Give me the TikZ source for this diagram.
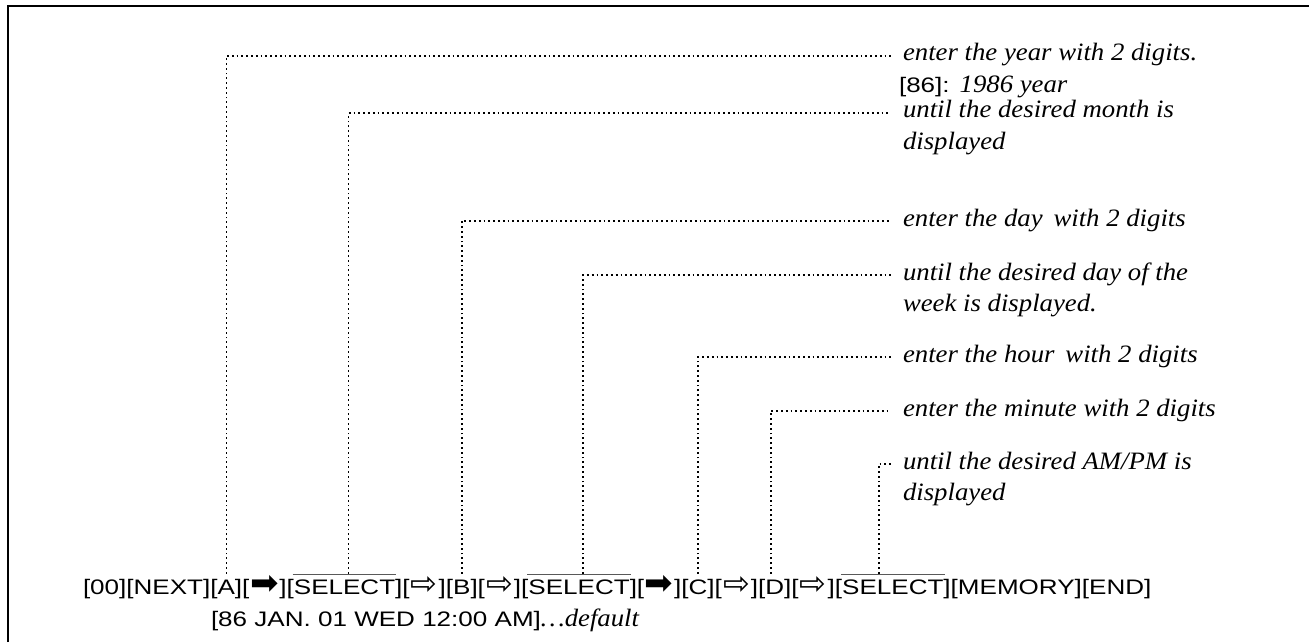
\documentclass[tikz,border=0pt]{standalone}
\usepackage{fontspec}
\usepackage{tikz}
\usetikzlibrary{positioning}
\newfontfamily\keyfont[FakeStretch=1.24]{Liberation Sans}
\newfontfamily\notefont[FakeStretch=1.07]{Liberation Serif}
\newfontfamily\arrowfont{DejaVu Sans}
\newcommand{\blackarr}{\makebox[15pt]{\arrowfont\fontsize{17}{12}\selectfont ➡}}
\newcommand{\whitearr}{\makebox[14.5pt]{\arrowfont\fontsize{16}{12}\selectfont ⇨}}
\newcommand{\keytext}{\keyfont\upshape\fontsize{10.5}{15}\selectfont}

\begin{document}
\begin{tikzpicture}[
  x=0.5pt, y=-0.5pt,
  key/.style={
    font=\keytext,
    inner sep=0pt, outer sep=0pt,
    text height=8.2pt, text depth=2.3pt},
  note/.style={
    font=\notefont\itshape\fontsize{12.5}{15}\selectfont,
    inner sep=0pt, outer sep=0pt,
    text height=8pt, text depth=3pt, anchor=west},
  lead/.style={
    draw=black, line width=0.75pt,
    dash pattern=on 0.9pt off 1.5pt,
    shorten <=2pt, shorten >=6pt},
  bar/.style={draw=black!65, line width=0.5pt},
]
\useasboundingbox (0,0) rectangle (1309,642);

% frame
\draw[line width=1.3pt] (8,642) -- (8,6) -- (1309,6);

% key sequence
\node[key, anchor=base west] (k00) at (83,594) {[00]};
\node[key, right=0pt of k00]   (knext) {[NEXT]};
\node[key, right=0pt of knext] (ka)    {[A]};
\node[key, right=0pt of ka]    (kar1)  {[\blackarr]};
\node[key, right=0pt of kar1]  (ksel1) {[SELECT]};
\node[key, right=0pt of ksel1] (kar2)  {[\whitearr]};
\node[key, right=0pt of kar2]  (kb)    {[B]};
\node[key, right=0pt of kb]    (kar3)  {[\whitearr]};
\node[key, right=0pt of kar3]  (ksel2) {[SELECT]};
\node[key, right=0pt of ksel2] (kar4)  {[\blackarr]};
\node[key, right=0pt of kar4]  (kc)    {[C]};
\node[key, right=0pt of kc]    (kar5)  {[\whitearr]};
\node[key, right=0pt of kar5]  (kd)    {[D]};
\node[key, right=0pt of kd]    (kar6)  {[\whitearr]};
\node[key, right=0pt of kar6]  (ksel3) {[SELECT]};
\node[key, right=0pt of ksel3] (kmem)  {[MEMORY]};
\node[key, right=0pt of kmem]  (kend)  {[END]};

\node[key, anchor=base west] (dflt) at (211,626)
  {[86 JAN. 01 WED 12:00 AM]{\notefont\itshape\fontsize{12.5}{15}\selectfont\ldots default}};

% bars over SELECT
\foreach \s in {ksel1,ksel2,ksel3}
  \draw[bar] ([xshift=3pt,yshift=1.5pt]\s.north west) -- ([xshift=-3pt,yshift=1.5pt]\s.north east);

% notes
\node[note] (lyear) at (903,56) {enter the year with 2 digits.};
\node[note, below right=4.5pt and 0pt of lyear.south west] (lyear2)
  {\hspace{-2pt}{\keytext [86]:}\hspace{5pt}1986 year};
\node[note] (lmonth) at (903,113) {until the desired month is};
\node[note, below right=4.5pt and 0pt of lmonth.south west] (lmonth2) {displayed};
\node[note] (lday) at (903,221) {enter the day\, with 2 digits};
\node[note] (lweek) at (903,275) {until the desired day of the};
\node[note, below right=4.5pt and 0pt of lweek.south west] (lweek2) {week is displayed.};
\node[note] (lhour) at (903,357) {enter the hour\, with 2 digits};
\node[note] (lmin) at (903,411) {enter the minute with 2 digits};
\node[note] (lampm) at (903,464) {until the desired AM/PM is};
\node[note, below right=4.5pt and 0pt of lampm.south west] (lampm2) {displayed};

% leaders
\draw[lead] (ka.north)    |- (lyear.west);
\draw[lead] ([xshift=2pt]ksel1.north) |- (lmonth.west);
\draw[lead] (kb.north)    |- (lday.west);
\draw[lead] ([xshift=2pt]ksel2.north) |- (lweek.west);
\draw[lead] (kc.north)    |- (lhour.west);
\draw[lead] ([xshift=-2pt]kd.north) |- (lmin.west);
\draw[lead] ([xshift=-7pt]ksel3.north) |- (lampm.west);

\end{tikzpicture}
\end{document}
